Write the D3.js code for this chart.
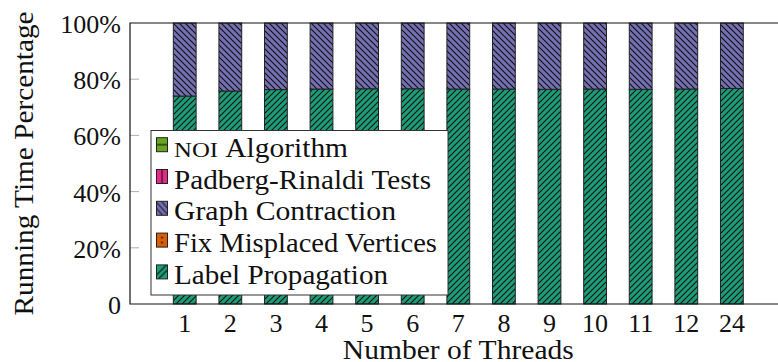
<!DOCTYPE html>
<html>
<head>
<meta charset="utf-8">
<script src="https://cdn.jsdelivr.net/npm/d3@7/dist/d3.min.js"></script>
<style>
  html, body { margin: 0; padding: 0; background: #fff; }
  svg { display: block; }
</style>
</head>
<body>
<svg id="chart" width="778" height="362"></svg>
<script>
// Thread counts on the x axis
const threads = ["1", "2", "3", "4", "5", "6", "7", "8", "9", "10", "11", "12", "24"];

// Share of running time (%) per phase, one value per thread count
const labelPropagation   = [74.0, 75.8, 76.3, 76.5, 76.6, 76.6, 76.5, 76.5, 76.4, 76.5, 76.4, 76.5, 76.7];
const fixMisplaced       = [0, 0, 0, 0, 0, 0, 0, 0, 0, 0, 0, 0, 0];
const graphContraction   = [26.0, 24.2, 23.7, 23.5, 23.4, 23.4, 23.5, 23.5, 23.6, 23.5, 23.6, 23.5, 23.3];
const padbergRinaldi     = [0, 0, 0, 0, 0, 0, 0, 0, 0, 0, 0, 0, 0];
const noiAlgorithm       = [0, 0, 0, 0, 0, 0, 0, 0, 0, 0, 0, 0, 0];

const yTicks = [0, 20, 40, 60, 80, 100];
const yTickLabels = ["0", "20%", "40%", "60%", "80%", "100%"];

// Phases, bottom of the stack first; `len` is the rendered width of the legend label
const phases = [
  { key: "lp",  name: "Label Propagation",      values: labelPropagation, color: "#1b9e77", pattern: "ne",    len: 214 },
  { key: "fix", name: "Fix Misplaced Vertices", values: fixMisplaced,     color: "#d95f02", pattern: "dots",  len: 263 },
  { key: "gc",  name: "Graph Contraction",      values: graphContraction, color: "#7570b3", pattern: "nw",    len: 222 },
  { key: "pr",  name: "Padberg-Rinaldi Tests",  values: padbergRinaldi,   color: "#e7298a", pattern: "vert",  len: 257 },
  { key: "noi", name: "NOI Algorithm",          values: noiAlgorithm,     color: "#66a61e", pattern: "horiz", len: 175 }
];

const rows = threads.map((t, i) => {
  const r = { t };
  phases.forEach(p => { r[p.key] = p.values[i]; });
  return r;
});

const FONT = "'Liberation Serif', 'DejaVu Serif', serif";
const svg = d3.select("#chart").attr("font-family", FONT);
const plotLeft = 130, plotTop = 23, plotBottom = 304, plotRight = 786.6;

const x = d3.scaleBand().domain(threads).range([plotLeft, plotRight]).paddingInner(0.5).paddingOuter(0.95);
const y = d3.scaleLinear().domain([0, 100]).range([plotBottom, plotTop]);

// Hatch patterns for the bar fills
const defs = svg.append("defs");
const S = 6;
phases.forEach(p => {
  const pat = defs.append("pattern")
    .attr("id", "pat-" + p.key)
    .attr("patternUnits", "userSpaceOnUse")
    .attr("width", S).attr("height", S);
  pat.append("rect").attr("width", S).attr("height", S).attr("fill", p.color);
  const ln = (d) => pat.append("path").attr("d", d).attr("stroke", "#111").attr("stroke-width", 1.15).attr("fill", "none");
  if (p.pattern === "ne") ln(`M0,${S} L${S},0 M-1,1 L1,-1 M${S-1},${S+1} L${S+1},${S-1}`);
  if (p.pattern === "nw") ln(`M0,0 L${S},${S} M${S-1},-1 L${S+1},1 M-1,${S-1} L1,${S+1}`);
  if (p.pattern === "vert") ln(`M${S/2},0 L${S/2},${S}`);
  if (p.pattern === "horiz") ln(`M0,${S/2} L${S},${S/2}`);
  if (p.pattern === "dots") pat.append("circle").attr("cx", S/2).attr("cy", S/2).attr("r", 0.9).attr("fill", "#111");
});

// Legend swatches get their own patterns so a single line/dot sits in the middle
phases.forEach(p => {
  const w = 11, h = 14;
  const pat = defs.append("pattern")
    .attr("id", "sw-" + p.key)
    .attr("patternUnits", "objectBoundingBox")
    .attr("patternContentUnits", "userSpaceOnUse")
    .attr("width", 1).attr("height", 1);
  pat.append("rect").attr("width", w).attr("height", h).attr("fill", p.color);
  const ln = (d) => pat.append("path").attr("d", d).attr("stroke", "#111").attr("stroke-width", 1.1).attr("fill", "none");
  if (p.pattern === "ne") ln(`M0,${h-4} L${w-1},0 M2,${h} L${w},${h-9}`);
  if (p.pattern === "nw") ln(`M0,1 L${w},${h-1} M0,7 L${w-5},${h} M5,0 L${w},${h-7}`);
  if (p.pattern === "vert") ln(`M${w/2},0 L${w/2},${h}`);
  if (p.pattern === "horiz") ln(`M0,${h/2} L${w},${h/2}`);
  if (p.pattern === "dots") {
    pat.append("circle").attr("cx", w/2).attr("cy", h/2 - 2.5).attr("r", 0.9).attr("fill", "#111");
    pat.append("circle").attr("cx", w/2).attr("cy", h/2 + 2.5).attr("r", 0.9).attr("fill", "#111");
  }
});

// Stacked bars
const stack = d3.stack().keys(phases.map(p => p.key));
const series = stack(rows);

svg.append("g").selectAll("g")
  .data(series)
  .join("g")
    .attr("fill", d => "url(#pat-" + d.key + ")")
  .selectAll("rect")
  .data(d => d.filter(s => s[1] - s[0] > 0))
  .join("rect")
    .attr("x", d => x(d.data.t))
    .attr("width", x.bandwidth())
    .attr("y", d => y(d[1]))
    .attr("height", d => y(d[0]) - y(d[1]))
    .attr("stroke", "#222")
    .attr("stroke-width", 1);

// Y tick marks (inside the frame)
svg.append("g").selectAll("line")
  .data(yTicks.filter(t => t > 0 && t < 100))
  .join("line")
    .attr("x1", plotLeft).attr("x2", plotLeft + 9)
    .attr("y1", d => y(d)).attr("y2", d => y(d))
    .attr("stroke", "#b0b0b0").attr("stroke-width", 1);

// Frame: left, top and bottom edges
svg.append("path")
  .attr("d", `M${plotRight},${plotTop} L${plotLeft},${plotTop} L${plotLeft},${plotBottom} L${plotRight},${plotBottom}`)
  .attr("fill", "none").attr("stroke", "#111").attr("stroke-width", 1.2);

// Y tick labels
svg.append("g").selectAll("text")
  .data(yTicks)
  .join("text")
    .attr("x", 121)
    .attr("y", d => y(d) + 10)
    .attr("text-anchor", "end")
    .attr("font-size", 26)
    .attr("fill", "#111")
    .text((d, i) => yTickLabels[i]);

// X tick labels
svg.append("g").selectAll("text")
  .data(threads)
  .join("text")
    .attr("x", d => x(d) + x.bandwidth() / 2)
    .attr("y", 332)
    .attr("text-anchor", "middle")
    .attr("font-size", 26)
    .attr("fill", "#111")
    .text(d => d);

// Axis titles
svg.append("text")
  .attr("x", (plotLeft + plotRight) / 2 - 115.5)
  .attr("y", 359)
  .attr("font-size", 27)
  .attr("fill", "#111")
  .attr("textLength", 231)
  .attr("lengthAdjust", "spacingAndGlyphs")
  .text("Number of Threads");

svg.append("text")
  .attr("transform", `translate(32.5,${(plotTop + plotBottom) / 2 + 152}) rotate(-90)`)
  .attr("font-size", 27)
  .attr("fill", "#111")
  .attr("textLength", 304)
  .attr("lengthAdjust", "spacingAndGlyphs")
  .text("Running Time Percentage");

// Legend (top entry is the top of the stack)
const legend = svg.append("g");
legend.append("rect")
  .attr("x", 151).attr("y", 130.5)
  .attr("width", 297).attr("height", 164.5)
  .attr("fill", "#fff").attr("stroke", "#333").attr("stroke-width", 1);

const legendItems = phases.slice().reverse();
const item = legend.selectAll("g.item")
  .data(legendItems)
  .join("g")
    .attr("class", "item")
    .attr("transform", (d, i) => `translate(0,${144.7 + i * 31.8})`);

item.append("rect")
  .attr("x", 156.5).attr("y", -7)
  .attr("width", 11).attr("height", 14)
  .attr("fill", d => "url(#sw-" + d.key + ")")
  .attr("stroke", "#222").attr("stroke-width", 1);

item.append("text")
  .attr("x", 174)
  .attr("y", 12)
  .attr("font-size", 27)
  .attr("fill", "#111")
  .each(function (d) {
    const t = d3.select(this);
    if (d.key === "noi") {
      t.append("tspan").attr("font-size", 20)
        .attr("textLength", 44).attr("lengthAdjust", "spacingAndGlyphs").text("NOI");
      t.append("tspan").attr("x", 218)
        .attr("textLength", 130).attr("lengthAdjust", "spacingAndGlyphs").text("\u00a0Algorithm");
    } else {
      t.attr("textLength", d.len).attr("lengthAdjust", "spacingAndGlyphs").text(d.name);
    }
  });
</script>
</body>
</html>
